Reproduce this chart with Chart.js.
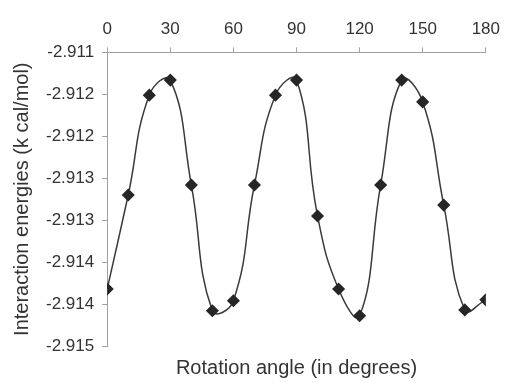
<!DOCTYPE html>
<html>
<head>
<meta charset="utf-8">
<script src="https://cdn.jsdelivr.net/npm/chart.js@4"></script>
<style>
  html, body { margin: 0; padding: 0; background: #fff; }
  #wrap { width: 508px; height: 383px; }
</style>
</head>
<body>
<div id="wrap"><canvas id="chartEnergy"></canvas></div>
<script>
// rotation angle, degrees
var angles = [0, 10, 20, 30, 40, 50, 60, 70, 80, 90, 100, 110, 120, 130, 140, 150, 160, 170, 180];
// interaction energy, k cal/mol
var energies = [-2.91382, -2.91270, -2.91151, -2.91133, -2.91258, -2.91408, -2.91396,
                -2.91258, -2.91151, -2.91133, -2.91295, -2.91382, -2.91414, -2.91258,
                -2.91133, -2.91159, -2.91282, -2.91407, -2.91395];

var xTicks = [0, 30, 60, 90, 120, 150, 180];
var yTicks = [-2.9145, -2.9140, -2.9135, -2.9130, -2.9125, -2.9120, -2.9115, -2.9110];
var yTickLabels = ['-2.915', '-2.914', '-2.914', '-2.913', '-2.913', '-2.912', '-2.912', '-2.911'];

var ink = '#333';
var axisGrey = '#a0a0a0';
var font = 'Arial, "Liberation Sans", sans-serif';

var points = angles.map(function(a, i) { return { x: a, y: energies[i] }; });

new Chart(document.getElementById('chartEnergy'), {
  type: 'line',
  data: {
    datasets: [{
      data: points,
      borderColor: '#3a3a3a',
      borderWidth: 1.5,
      tension: 0.45,
      pointStyle: 'rectRot',
      pointRadius: 5.5,
      pointBackgroundColor: '#262626',
      pointBorderColor: '#262626',
      fill: false
    }]
  },
  options: {
    responsive: true,
    maintainAspectRatio: false,
    animation: false,
    layout: { padding: { left: 10, right: 0, top: 11, bottom: 3 } },
    plugins: {
      legend: { display: false },
      tooltip: { enabled: false }
    },
    scales: {
      x: {
        type: 'linear',
        position: 'top',
        min: 0,
        max: 180,
        afterBuildTicks: function(scale) {
          scale.ticks = xTicks.map(function(v) { return { value: v }; });
        },
        grid: { drawOnChartArea: false, drawTicks: true, tickLength: 5, color: axisGrey },
        border: { display: true, color: axisGrey, width: 1 },
        ticks: { color: ink, font: { family: font, size: 17 }, padding: 8, maxRotation: 0 }
      },
      // bottom axis only carries the title
      xTitle: {
        type: 'linear',
        position: 'bottom',
        min: 0,
        max: 180,
        grid: { display: false },
        border: { display: false },
        ticks: { display: false },
        title: {
          display: true,
          text: 'Rotation angle (in degrees)',
          color: ink,
          font: { family: font, size: 20 },
          padding: { top: 2, bottom: 0 }
        }
      },
      y: {
        min: -2.9145,
        max: -2.9110,
        afterBuildTicks: function(scale) {
          scale.ticks = yTicks.map(function(v) { return { value: v }; });
        },
        grid: { drawOnChartArea: false, drawTicks: true, tickLength: 5, color: axisGrey },
        border: { display: true, color: axisGrey, width: 1 },
        ticks: {
          color: ink,
          font: { family: font, size: 17 },
          padding: 8,
          callback: function(v, i) { return yTickLabels[i]; }
        },
        title: {
          display: true,
          text: 'Interaction energies (k cal/mol)',
          color: ink,
          font: { family: font, size: 20 },
          padding: { top: 0, bottom: 4 }
        }
      }
    }
  }
});
</script>
</body>
</html>
